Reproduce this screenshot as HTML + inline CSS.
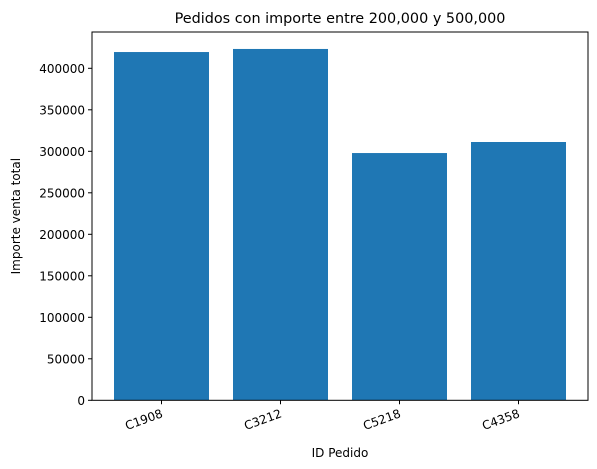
<!DOCTYPE html>
<html><head><meta charset="utf-8"><style>
body{margin:0;background:#fff;}
svg{display:block;font-family:"DejaVu Sans","Liberation Sans",sans-serif;}
</style></head><body>
<svg width="597" height="469">
<g id="plot"></g>
</svg>
<script>
const categories=["C1908","C3212","C5218","C4358"];
const values=[419600,423300,297900,311200];
const yTicks=[0,50000,100000,150000,200000,250000,300000,350000,400000];
const L=92,R=588,T=32,B=400.3;
function y(v){return B-v*41.5/50000;}
function xc(i){return 161.5+119*i;}
const g=document.getElementById('plot');
const NS='http://www.w3.org/2000/svg';
function mk(t,a,txt){const e=document.createElementNS(NS,t);for(const k in a)e.setAttribute(k,a[k]);if(txt!==undefined)e.textContent=txt;g.appendChild(e);return e;}
categories.forEach((c,i)=>{
 const b=mk('rect',{x:xc(i)-47.5,y:y(values[i]),width:95,height:B-y(values[i]),fill:'#1f77b4'});
 
 
 const tk=mk('line',{x1:xc(i),x2:xc(i),y1:B,y2:B+4,stroke:'#000','stroke-width':1});
 
 
 const ax=xc(i)-1, ay=B+8;
 const t=mk('text',{x:ax,y:ay+9,'font-size':12,'text-anchor':'end',transform:`rotate(-20 ${ax} ${ay})`},c);
 
 
});
yTicks.forEach(v=>{
 const tk=mk('line',{x1:L-4,x2:L,y1:y(v),y2:y(v),stroke:'#000','stroke-width':1});
 
 
 const t=mk('text',{x:L-7,y:y(v)+4.5,'font-size':12,'text-anchor':'end'},String(v));
 
 
});
const fr=mk('rect',{x:L,y:T,width:R-L,height:B-T,fill:'none',stroke:'#000','stroke-width':1});


const ti=mk('text',{x:(L+R)/2,y:23,'font-size':14.4,'text-anchor':'middle'},'Pedidos con importe entre 200,000 y 500,000');


const xt=mk('text',{x:(L+R)/2,y:457,'font-size':12,'text-anchor':'middle'},'ID Pedido');


const yt=mk('text',{x:20,y:(T+B)/2,'font-size':12,'text-anchor':'middle',transform:`rotate(-90 20 ${(T+B)/2})`},'Importe venta total');


</script>
</body></html>
